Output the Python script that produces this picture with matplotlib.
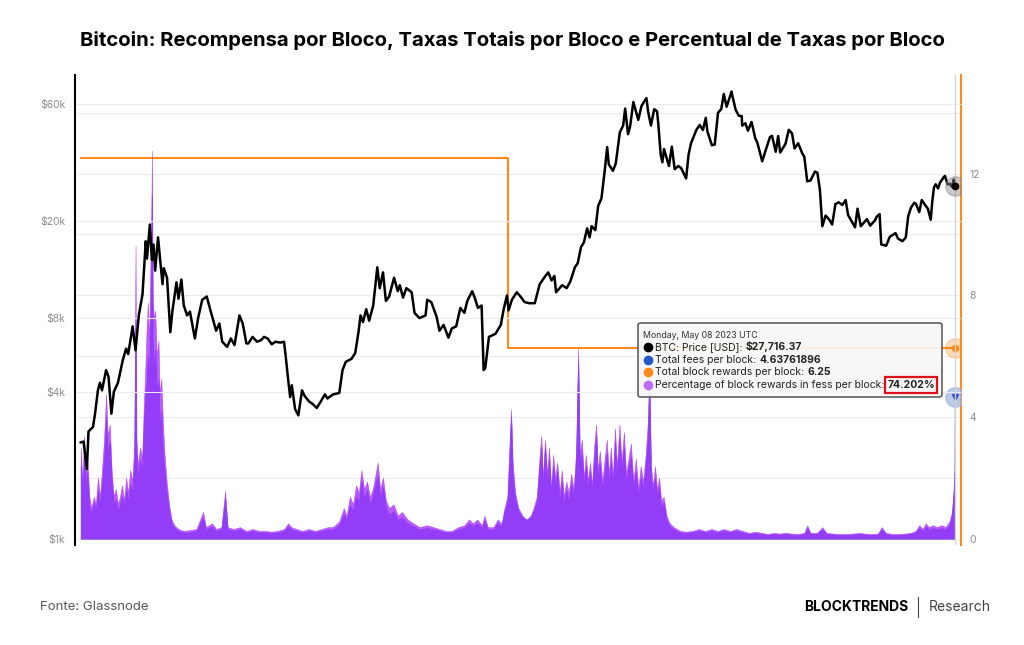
import matplotlib
matplotlib.use("Agg")
import matplotlib.pyplot as plt
from matplotlib.patches import FancyBboxPatch
from matplotlib.lines import Line2D
from matplotlib.text import Annotation
import pandas as pd

plt.rcParams['font.family'] = ['Inter', 'DejaVu Sans']

# ---- data ----
price_dates = [
    '2017-07-01', '2017-07-08', '2017-07-16', '2017-07-20', '2017-07-31', '2017-08-05', '2017-08-12', '2017-08-17',
    '2017-08-22', '2017-09-01', '2017-09-07', '2017-09-14', '2017-09-20', '2017-09-30', '2017-10-12', '2017-10-20',
    '2017-10-25', '2017-11-05', '2017-11-12', '2017-11-20', '2017-11-29', '2017-12-07', '2017-12-10', '2017-12-17',
    '2017-12-22', '2017-12-26', '2017-12-30', '2018-01-06', '2018-01-10', '2018-01-17', '2018-01-20', '2018-01-28',
    '2018-02-05', '2018-02-10', '2018-02-20', '2018-02-25', '2018-03-04', '2018-03-10', '2018-03-18', '2018-03-25',
    '2018-04-06', '2018-04-14', '2018-04-24', '2018-05-05', '2018-05-15', '2018-05-28', '2018-06-05', '2018-06-12',
    '2018-06-24', '2018-07-03', '2018-07-12', '2018-07-24', '2018-08-01', '2018-08-10', '2018-08-15', '2018-08-25',
    '2018-09-05', '2018-09-15', '2018-09-22', '2018-10-01', '2018-10-11', '2018-10-20', '2018-11-01', '2018-11-10',
    '2018-11-14', '2018-11-20', '2018-11-25', '2018-11-29', '2018-12-07', '2018-12-15', '2018-12-24', '2018-12-30',
    '2019-01-10', '2019-01-20', '2019-01-29', '2019-02-08', '2019-02-18', '2019-02-24', '2019-03-10', '2019-03-25',
    '2019-04-02', '2019-04-10', '2019-04-24', '2019-05-03', '2019-05-11', '2019-05-16', '2019-05-22', '2019-05-30',
    '2019-06-06', '2019-06-16', '2019-06-26', '2019-07-02', '2019-07-10', '2019-07-17', '2019-07-25', '2019-08-06',
    '2019-08-15', '2019-08-20', '2019-08-28', '2019-09-05', '2019-09-18', '2019-09-25', '2019-10-07', '2019-10-22',
    '2019-10-26', '2019-11-05', '2019-11-18', '2019-11-25', '2019-12-05', '2019-12-17', '2019-12-25', '2020-01-05',
    '2020-01-15', '2020-01-25', '2020-02-01', '2020-02-13', '2020-02-20', '2020-02-27', '2020-03-07', '2020-03-12',
    '2020-03-16', '2020-03-25', '2020-04-02', '2020-04-10', '2020-04-23', '2020-04-30', '2020-05-08', '2020-05-12',
    '2020-05-20', '2020-06-01', '2020-06-10', '2020-06-20', '2020-07-01', '2020-07-15', '2020-07-27', '2020-08-10',
    '2020-08-17', '2020-08-25', '2020-09-01', '2020-09-05', '2020-09-20', '2020-10-01', '2020-10-10', '2020-10-21',
    '2020-10-28', '2020-11-05', '2020-11-12', '2020-11-20', '2020-11-26', '2020-12-01', '2020-12-10', '2020-12-17',
    '2020-12-25', '2021-01-02', '2021-01-08', '2021-01-12', '2021-01-22', '2021-01-29', '2021-02-08', '2021-02-16',
    '2021-02-21', '2021-02-28', '2021-03-05', '2021-03-13', '2021-03-25', '2021-04-02', '2021-04-14', '2021-04-18',
    '2021-04-25', '2021-05-03', '2021-05-10', '2021-05-13', '2021-05-19', '2021-05-23', '2021-05-27', '2021-06-08',
    '2021-06-15', '2021-06-22', '2021-07-01', '2021-07-08', '2021-07-20', '2021-07-26', '2021-08-01', '2021-08-14',
    '2021-08-22', '2021-08-30', '2021-09-06', '2021-09-10', '2021-09-21', '2021-09-28', '2021-10-06', '2021-10-14',
    '2021-10-20', '2021-10-27', '2021-11-08', '2021-11-10', '2021-11-18', '2021-11-26', '2021-12-03', '2021-12-04',
    '2021-12-12', '2021-12-18', '2021-12-27', '2022-01-05', '2022-01-10', '2022-01-22', '2022-01-28', '2022-02-10',
    '2022-02-15', '2022-02-24', '2022-03-02', '2022-03-07', '2022-03-20', '2022-03-28', '2022-04-05', '2022-04-11',
    '2022-04-20', '2022-04-30', '2022-05-05', '2022-05-12', '2022-05-20', '2022-05-31', '2022-06-06', '2022-06-12',
    '2022-06-18', '2022-06-26', '2022-07-05', '2022-07-12', '2022-07-20', '2022-07-28', '2022-08-06', '2022-08-14',
    '2022-08-20', '2022-09-06', '2022-09-12', '2022-09-20', '2022-10-05', '2022-10-13', '2022-10-25', '2022-10-29',
    '2022-11-05', '2022-11-09', '2022-11-21', '2022-11-30', '2022-12-14', '2022-12-20', '2022-12-31', '2023-01-08',
    '2023-01-14', '2023-01-21', '2023-01-29', '2023-02-02', '2023-02-10', '2023-02-16', '2023-02-25', '2023-03-03',
    '2023-03-10', '2023-03-14', '2023-03-18', '2023-03-22', '2023-03-28', '2023-04-01', '2023-04-11', '2023-04-14',
    '2023-04-20', '2023-04-26', '2023-05-01', '2023-05-05', '2023-05-08',
]
btc_price = [
    2480, 2500, 1930, 2750, 2870, 3250, 4050, 4350,
    4050, 4900, 4600, 3250, 4000, 4350, 5400, 6000,
    5700, 7400, 5900, 8200, 10000, 16500, 14000, 19300,
    13800, 16000, 12500, 17100, 14500, 11000, 12800, 11700,
    7000, 8500, 11200, 9600, 11500, 9000, 8200, 8500,
    6600, 8000, 9500, 9800, 8500, 7100, 7600, 6400,
    6100, 6600, 6200, 8200, 7600, 6300, 6300, 6700,
    6400, 6500, 6700, 6600, 6250, 6400, 6350, 6400,
    5600, 4500, 3800, 4250, 3400, 3200, 4050, 3850,
    3650, 3550, 3430, 3650, 3900, 3750, 3900, 3950,
    4900, 5300, 5450, 5750, 7000, 8200, 7700, 8700,
    7800, 9000, 12900, 10600, 12300, 9400, 9800, 11700,
    10300, 10900, 9700, 10600, 10200, 8400, 8000, 8200,
    9500, 9300, 8100, 7100, 7500, 6650, 7250, 7400,
    8800, 8400, 9400, 10300, 9600, 8800, 9000, 4900,
    5000, 6700, 6800, 6900, 7500, 8700, 9900, 8600,
    9500, 10200, 9800, 9300, 9200, 9200, 11000, 11900,
    12300, 11400, 11900, 10200, 10900, 10600, 11300, 12900,
    13400, 15600, 16300, 18600, 17100, 19000, 18300, 23000,
    24700, 32000, 40000, 34000, 32000, 34300, 46000, 49000,
    57500, 45200, 48500, 61200, 51700, 59000, 63500, 56000,
    49000, 57200, 56000, 49700, 37000, 34700, 39300, 33500,
    40200, 32500, 33500, 32800, 29800, 37300, 41500, 47000,
    49300, 47000, 52700, 46400, 40700, 41000, 55300, 57300,
    66000, 58500, 67500, 65000, 56900, 53700, 53600, 49000,
    50100, 46700, 50700, 43500, 41800, 35000, 37700, 44000,
    44500, 38300, 44400, 38000, 41300, 47100, 45500, 39500,
    41500, 37700, 36500, 29000, 29200, 31800, 31400, 26800,
    19000, 21000, 20200, 19300, 23400, 23800, 23200, 24300,
    21100, 18800, 22400, 19000, 20300, 19100, 20100, 20800,
    21300, 16000, 15800, 17200, 17800, 16900, 16500, 17100,
    20900, 22700, 23700, 23400, 21700, 24300, 23100, 22400,
    20200, 24200, 27400, 28200, 27100, 28500, 30200, 30500,
    28200, 28300, 27500, 29500, 27716,
]

fee_dates = [
    '2017-07-01', '2017-07-05', '2017-07-09', '2017-07-13', '2017-07-17', '2017-07-22', '2017-07-27', '2017-08-02',
    '2017-08-07', '2017-08-12', '2017-08-17', '2017-08-22', '2017-08-27', '2017-09-01', '2017-09-05', '2017-09-10',
    '2017-09-15', '2017-09-20', '2017-09-25', '2017-09-30', '2017-10-05', '2017-10-10', '2017-10-15', '2017-10-20',
    '2017-10-25', '2017-10-30', '2017-11-04', '2017-11-09', '2017-11-12', '2017-11-14', '2017-11-18', '2017-11-23',
    '2017-11-28', '2017-12-02', '2017-12-06', '2017-12-09', '2017-12-12', '2017-12-15', '2017-12-18', '2017-12-20',
    '2017-12-22', '2017-12-24', '2017-12-27', '2017-12-30', '2018-01-03', '2018-01-07', '2018-01-10', '2018-01-14',
    '2018-01-18', '2018-01-22', '2018-01-27', '2018-02-02', '2018-02-08', '2018-02-15', '2018-02-25', '2018-03-10',
    '2018-03-25', '2018-04-10', '2018-04-26', '2018-05-03', '2018-05-18', '2018-05-28', '2018-06-10', '2018-06-19',
    '2018-06-25', '2018-07-10', '2018-07-25', '2018-08-10', '2018-08-25', '2018-09-10', '2018-09-25', '2018-10-10',
    '2018-10-25', '2018-11-10', '2018-11-20', '2018-11-28', '2018-12-10', '2018-12-25', '2019-01-10', '2019-01-25',
    '2019-02-10', '2019-02-25', '2019-03-10', '2019-03-25', '2019-04-05', '2019-04-12', '2019-04-20', '2019-04-28',
    '2019-05-05', '2019-05-12', '2019-05-18', '2019-05-25', '2019-06-01', '2019-06-08', '2019-06-15', '2019-06-22',
    '2019-06-27', '2019-07-03', '2019-07-10', '2019-07-17', '2019-07-25', '2019-08-05', '2019-08-15', '2019-08-25',
    '2019-09-08', '2019-09-22', '2019-10-08', '2019-10-25', '2019-11-10', '2019-11-25', '2019-12-10', '2019-12-25',
    '2020-01-10', '2020-01-25', '2020-02-05', '2020-02-15', '2020-02-25', '2020-03-08', '2020-03-14', '2020-03-22',
    '2020-04-05', '2020-04-15', '2020-04-25', '2020-05-02', '2020-05-09', '2020-05-13', '2020-05-18', '2020-05-22',
    '2020-05-28', '2020-06-05', '2020-06-15', '2020-06-25', '2020-07-05', '2020-07-12', '2020-07-20', '2020-07-27',
    '2020-07-31', '2020-08-04', '2020-08-09', '2020-08-14', '2020-08-19', '2020-08-24', '2020-08-29', '2020-09-03',
    '2020-09-08', '2020-09-14', '2020-09-19', '2020-09-24', '2020-09-30', '2020-10-06', '2020-10-12', '2020-10-18',
    '2020-10-24', '2020-10-29', '2020-11-02', '2020-11-07', '2020-11-12', '2020-11-17', '2020-11-22', '2020-11-27',
    '2020-12-02', '2020-12-07', '2020-12-12', '2020-12-16', '2020-12-21', '2020-12-27', '2021-01-02', '2021-01-07',
    '2021-01-12', '2021-01-17', '2021-01-22', '2021-01-27', '2021-02-01', '2021-02-07', '2021-02-12', '2021-02-18',
    '2021-02-23', '2021-03-01', '2021-03-07', '2021-03-13', '2021-03-19', '2021-03-25', '2021-03-31', '2021-04-06',
    '2021-04-12', '2021-04-17', '2021-04-21', '2021-04-25', '2021-04-30', '2021-05-05', '2021-05-10', '2021-05-15',
    '2021-05-20', '2021-05-26', '2021-06-02', '2021-06-10', '2021-06-20', '2021-07-05', '2021-07-20', '2021-08-05',
    '2021-08-20', '2021-09-05', '2021-09-20', '2021-10-05', '2021-10-20', '2021-11-05', '2021-11-20', '2021-12-05',
    '2021-12-20', '2022-01-05', '2022-01-20', '2022-02-05', '2022-02-20', '2022-03-05', '2022-03-20', '2022-04-05',
    '2022-04-20', '2022-05-05', '2022-05-12', '2022-05-20', '2022-06-05', '2022-06-18', '2022-06-28', '2022-07-15',
    '2022-08-01', '2022-08-15', '2022-09-01', '2022-09-15', '2022-10-01', '2022-10-15', '2022-11-01', '2022-11-10',
    '2022-11-20', '2022-12-05', '2022-12-20', '2023-01-05', '2023-01-20', '2023-02-01', '2023-02-10', '2023-02-18',
    '2023-02-26', '2023-03-05', '2023-03-15', '2023-03-25', '2023-04-05', '2023-04-15', '2023-04-25', '2023-05-01',
    '2023-05-05', '2023-05-07', '2023-05-08',
]
# total fees per block (BTC)
fees_per_block = [
    2.4, 1.6, 2.6, 1.8, 2.2, 1.1, 0.8, 1.2,
    0.9, 1.6, 1.1, 1.8, 2.6, 4.0, 2.8, 3.2,
    1.7, 1.1, 1.3, 0.9, 1.1, 1.4, 1.0, 1.6,
    1.2, 1.8, 1.5, 2.6, 7.2, 2.8, 2.0, 2.6,
    2.2, 3.6, 4.8, 5.0, 6.0, 5.2, 7.0, 8.0,
    11.3, 6.5, 5.5, 6.2, 4.8, 5.2, 3.6, 4.2,
    2.8, 2.2, 1.5, 0.9, 0.5, 0.35, 0.25, 0.2,
    0.2, 0.25, 0.7, 0.3, 0.4, 0.25, 0.3, 1.3,
    0.3, 0.25, 0.3, 0.2, 0.25, 0.2, 0.2, 0.18,
    0.2, 0.25, 0.4, 0.3, 0.25, 0.2, 0.25, 0.2,
    0.25, 0.3, 0.3, 0.45, 0.8, 0.6, 1.1, 0.9,
    1.4, 1.2, 1.9, 1.3, 1.6, 1.1, 1.4, 1.8,
    2.1, 1.3, 1.7, 1.0, 0.8, 0.9, 0.6, 0.7,
    0.5, 0.4, 0.3, 0.35, 0.3, 0.25, 0.2, 0.2,
    0.3, 0.35, 0.5, 0.4, 0.5, 0.35, 0.6, 0.3,
    0.3, 0.5, 0.4, 0.9, 1.2, 2.2, 4.0, 2.0,
    1.3, 0.9, 0.7, 0.6, 0.7, 0.9, 1.2, 2.4,
    3.0, 1.6, 3.0, 1.8, 2.6, 1.4, 2.4, 1.7,
    2.2, 1.2, 1.9, 1.1, 1.6, 1.2, 1.8, 1.3,
    2.5, 5.8, 2.4, 2.8, 1.7, 2.4, 1.6, 2.2,
    1.5, 2.6, 3.4, 1.9, 2.5, 1.6, 2.2, 2.8,
    1.8, 2.5, 1.7, 3.2, 2.0, 3.3, 2.2, 3.0,
    1.8, 2.3, 2.7, 1.6, 2.2, 1.4, 2.0, 1.6,
    2.4, 3.2, 5.0, 2.0, 1.5, 2.0, 1.4, 1.7,
    1.0, 1.2, 0.6, 0.4, 0.3, 0.2, 0.18, 0.2,
    0.25, 0.2, 0.25, 0.2, 0.25, 0.2, 0.25, 0.2,
    0.15, 0.18, 0.15, 0.12, 0.15, 0.13, 0.15, 0.13,
    0.12, 0.15, 0.35, 0.15, 0.15, 0.3, 0.15, 0.13,
    0.12, 0.12, 0.13, 0.15, 0.13, 0.12, 0.13, 0.3,
    0.15, 0.12, 0.12, 0.13, 0.15, 0.2, 0.35, 0.25,
    0.4, 0.3, 0.35, 0.3, 0.35, 0.3, 0.45, 0.8,
    1.6, 2.2, 4.64,
]
# percentage of block rewards in fees (%)
fee_pct = [
    24, 15, 27, 17, 21, 11, 8, 11,
    9, 16, 11, 18, 26, 38, 27, 30,
    17, 11, 13, 9, 11, 14, 10, 16,
    12, 18, 15, 25, 77, 26, 19, 24,
    21, 34, 45, 55, 62, 52, 70, 80,
    102, 62, 58, 60, 48, 52, 38, 42,
    30, 22, 15, 9, 5, 3.5, 2.5, 2,
    2.2, 2.5, 7, 3, 4, 2.5, 3, 12.5,
    3, 2.5, 3, 2, 2.5, 2, 2, 1.8,
    2, 2.5, 4, 3, 2.5, 2, 2.5, 2,
    2.5, 3, 3, 4.5, 8, 6, 11, 9,
    14, 12, 18, 13, 15, 11, 13, 17,
    20, 13, 16, 10, 8, 9, 6, 7,
    5, 4, 3, 3.5, 3, 2.5, 2, 2,
    3, 3.5, 5, 4, 5, 3.5, 6, 3,
    3, 5, 4, 8, 11, 22, 34, 20,
    12, 8, 6, 5, 6, 8, 11, 22,
    27, 16, 26, 17, 24, 13, 22, 16,
    20, 12, 18, 11, 15, 12, 17, 13,
    23, 50, 22, 26, 16, 22, 15, 20,
    14, 24, 30, 18, 23, 15, 21, 26,
    17, 24, 16, 29, 19, 30, 20, 28,
    17, 21, 25, 15, 21, 13, 19, 15,
    22, 30, 44, 19, 14, 19, 13, 16,
    10, 11, 6, 4, 3, 2, 1.8, 2,
    2.5, 2, 2.5, 2, 2.5, 2, 2.5, 2,
    1.5, 1.8, 1.5, 1.2, 1.5, 1.3, 1.5, 1.3,
    1.2, 1.5, 3.5, 1.5, 1.5, 3, 1.5, 1.3,
    1.2, 1.2, 1.3, 1.5, 1.3, 1.2, 1.3, 3,
    1.5, 1.2, 1.2, 1.3, 1.5, 2, 3.5, 2.5,
    4, 3, 3.5, 3, 3.5, 3, 4.5, 7,
    12, 17.5, 17.5,
]

reward_dates = ['2017-07-01', '2020-05-11', '2023-05-08']
block_reward = [12.5, 6.25, 6.25]

xtick_dates = ['2017-07-01', '2018-01-01', '2018-07-01', '2019-01-01', '2019-07-01', '2020-01-01',
               '2020-07-01', '2021-01-01', '2021-07-01', '2022-01-01', '2022-07-01', '2023-01-01']
xtick_labels = ["Jul '17", "Jan '18", "Jul '18", "Jan '19", "Jul '19", "Jan '20",
                "Jul '20", "Jan '21", "Jul '21", "Jan '22", "Jul '22", "Jan '23"]
price_ticks = [1000, 4000, 8000, 20000, 60000]
price_labels = ['$1k', '$4k', '$8k', '$20k', '$60k']
btc_ticks = [0, 4, 8, 12]

ORANGE = '#ff8a1c'
PURPLE = '#a935ff'
BLUE = '#2f4fd0'
GRAY = '#8c8c8c'
GRID = '#ececec'

pdates = pd.to_datetime(price_dates)
fdates = pd.to_datetime(fee_dates)
rdates = pd.to_datetime(reward_dates)

fig = plt.figure(figsize=(10.24, 6.45), dpi=100)
pos = [75 / 1024, 100 / 645, 886 / 1024, 470 / 645]

# base axis: fees / block reward (right scale)
ax_btc = fig.add_axes(pos)
ax_btc.fill_between(fdates, 0, fees_per_block, color=BLUE, lw=0.6, alpha=0.9, zorder=2)
ax_btc.step(rdates, block_reward, where='post', color=ORANGE, lw=1.5, zorder=4)
ax_btc.set_ylim(-0.21, 15.24)
ax_btc.set_yticks(btc_ticks)
ax_btc.set_yticks([2, 6, 10, 14], minor=True)
ax_btc.grid(True, which='both', axis='y', color=GRID, lw=0.8, zorder=0)
ax_btc.set_axisbelow(True)

# percentage of rewards in fees (hidden scale)
ax_pct = ax_btc.twinx()
ax_pct.fill_between(fdates, 0, fee_pct, color=PURPLE, lw=0.4, alpha=0.8, zorder=3)
ax_pct.set_ylim(-1.7, 121.9)
ax_pct.set_yticks([])

# BTC price (log, left scale)
ax_px = ax_btc.twinx()
ax_px.plot(pdates, btc_price, color='black', lw=1.8, zorder=5)
ax_px.set_yscale('log')
ax_px.set_ylim(944, 78900)
ax_px.set_yticks(price_ticks)
ax_px.set_yticklabels(price_labels)
ax_px.minorticks_off()
for v in price_ticks[1:]:
    ax_px.axhline(v, color=GRID, lw=0.8, zorder=0)

# twinx moves the base ticks to the left, so set the sides after
ax_btc.yaxis.tick_right()
ax_btc.yaxis.set_label_position('right')
ax_btc.tick_params(axis='y', which='both', length=0, colors=GRAY, labelsize=7.5, pad=6)
ax_px.yaxis.tick_left()
ax_px.tick_params(axis='y', length=0, colors=GRAY, labelsize=7.5, pad=7)

xmin = pd.Timestamp('2017-06-17')
xmax = pd.Timestamp('2023-05-23')
for a in (ax_btc, ax_pct, ax_px):
    a.set_xlim(xmin, xmax)
    for s in a.spines.values():
        s.set_visible(False)
ax_px.spines['left'].set_visible(True)
ax_px.spines['left'].set_color('black')
ax_px.spines['left'].set_linewidth(1.5)
ax_btc.spines['right'].set_visible(True)
ax_btc.spines['right'].set_color(ORANGE)
ax_btc.spines['right'].set_linewidth(1.5)

ax_btc.set_xticks(pd.to_datetime(xtick_dates))
ax_btc.set_xticklabels(xtick_labels)
ax_btc.tick_params(axis='x', length=0, colors=GRAY, labelsize=7.5, pad=3)
ax_pct.set_xticks([])
ax_px.set_xticks([])

# crosshair on last day
last = pdates[-1]
ax_px.axvline(last, color='#d5d5d5', lw=1.0, zorder=1)
ax_px.plot([last], [btc_price[-1]], 'o', ms=14, color='#888888', alpha=0.45, zorder=6)
ax_px.plot([last], [btc_price[-1]], 'o', ms=4.5, color='black', zorder=7)
ax_btc.plot([last], [block_reward[-1]], 'o', ms=14, color=ORANGE, alpha=0.3, zorder=6)
ax_btc.plot([last], [block_reward[-1]], 'o', ms=4.5, color=ORANGE, zorder=7)
ax_btc.plot([last], [fees_per_block[-1]], 'o', ms=14, color='#9db4e0', alpha=0.7, zorder=6)
ax_btc.plot([last], [fees_per_block[-1]], 'v', ms=4, color=BLUE, zorder=7)


# tooltip
def fx(px):
    return px / 1024


def fy(py):
    return 1 - py / 645


box = FancyBboxPatch((fx(638), fy(397)), fx(304), 74 / 645,
                     boxstyle='round,pad=0,rounding_size=0.003',
                     transform=fig.transFigure, facecolor='#f7f7f7', alpha=0.93,
                     edgecolor='#555555', lw=1.2, zorder=10)
fig.patches.append(box)
fig.text(fx(643), fy(335), 'Monday, May 08 2023 UTC', fontsize=6.3, color='#333333',
         va='center', zorder=11)
rows = [
    ('black', 'BTC: Price [USD]: ', '$27,716.37'),
    ('#2259c9', 'Total fees per block: ', '4.63761896'),
    (ORANGE, 'Total block rewards per block: ', '6.25'),
    ('#c06bff', 'Percentage of block rewards in fess per block: ', '74.202%'),
]
for i, (c, label, val) in enumerate(rows):
    y = fy(347 + i * 12.7)
    fig.add_artist(Line2D([fx(648)], [y], marker='o', ms=6, color=c, transform=fig.transFigure, zorder=11))
    t = fig.text(fx(655), y, label, fontsize=7.5, color='#222222', va='center', zorder=11)
    kw = {}
    if i == 3:
        kw['bbox'] = dict(boxstyle='square,pad=0.25', fc='none', ec='#e0101a', lw=1.6)
    ann = Annotation(val, xy=(1, 0.5), xycoords=t, va='center', fontsize=7.5,
                     fontweight='bold', color='#222222', annotation_clip=False, **kw)
    ann.set_zorder(12)
    fig.add_artist(ann)

# title and footer
fig.text(0.5, fy(40), 'Bitcoin: Recompensa por Bloco, Taxas Totais por Bloco e Percentual de Taxas por Bloco',
         ha='center', va='center', fontsize=14.6, fontweight='bold', color='black')
fig.text(fx(40), fy(607), 'Fonte: Glassnode', fontsize=9.5, color='#555555', va='center')
fig.text(fx(908), fy(607), 'BLOCKTRENDS', fontsize=10, fontweight='bold', color='black',
         va='center', ha='right')
fig.add_artist(Line2D([fx(918), fx(918)], [fy(617), fy(597)], transform=fig.transFigure,
                      color='#444444', lw=0.8))
fig.text(fx(929), fy(607), 'Research', fontsize=10, color='#444444', va='center')

fig.savefig('out.png', dpi=100)
